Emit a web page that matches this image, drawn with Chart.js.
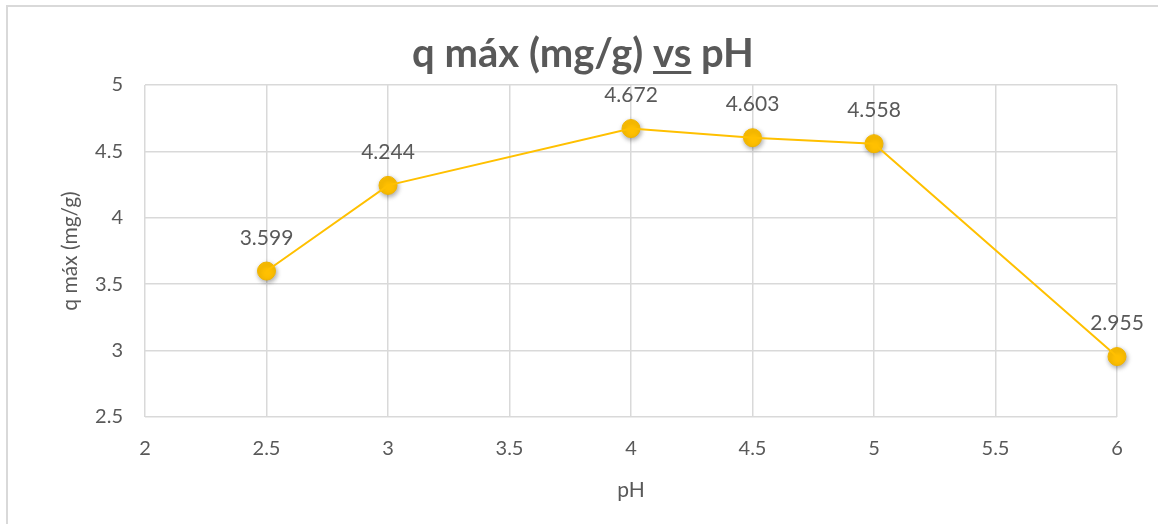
<!DOCTYPE html>
<html>
<head>
<meta charset="utf-8">
<script src="https://cdn.jsdelivr.net/npm/chart.js@4.4.0/dist/chart.umd.min.js"></script>
<style>
  html, body { margin: 0; padding: 0; background: #fff; }
  #wrap { position: relative; width: 1158px; height: 524px; overflow: hidden; }
  #frame { position: absolute; left: 6px; top: 5px; width: 1200px; height: 600px;
           border-left: 2px solid #d9d9d9; border-top: 2px solid #d9d9d9; }
  canvas { position: absolute; left: 0; top: 0; }
</style>
</head>
<body>
<div id="wrap">
  <div id="frame"></div>
  <canvas id="chart" width="1158" height="524"></canvas>
</div>
<script>
// Data
const phValues = [2.5, 3, 4, 4.5, 5, 6];
const qMax = [3.599, 4.244, 4.672, 4.603, 4.558, 2.955];
const xTicks = [2, 2.5, 3, 3.5, 4, 4.5, 5, 5.5, 6];
const yTicks = [2.5, 3, 3.5, 4, 4.5, 5];

const FONT = 'Lato, "Open Sans", sans-serif';
const TEXT = '#595959';
const GOLD = '#FFC000';

const points = phValues.map((x, i) => ({ x: x, y: qMax[i] }));

// Title with underlined "vs"
const titlePlugin = {
  id: 'excelTitle',
  afterDraw(chart) {
    const ctx = chart.ctx;
    const parts = ['q máx (mg/g) ', 'vs', ' pH'];
    ctx.save();
    ctx.font = 'bold 40px ' + FONT;
    ctx.fillStyle = TEXT;
    ctx.textBaseline = 'alphabetic';
    ctx.textAlign = 'left';
    const widths = parts.map(p => ctx.measureText(p).width);
    const total = widths.reduce((a, b) => a + b, 0);
    let x = 583 - total / 2;
    const base = 67;
    parts.forEach((p, i) => {
      ctx.fillText(p, x, base);
      if (i === 1) {
        ctx.fillRect(x, base + 4, widths[i], 3);
      }
      x += widths[i];
    });
    ctx.restore();
  }
};

// Value labels above points
const labelPlugin = {
  id: 'valueLabels',
  afterDatasetsDraw(chart) {
    const ctx = chart.ctx;
    const meta = chart.getDatasetMeta(1);
    ctx.save();
    ctx.font = '21px ' + FONT;
    ctx.fillStyle = TEXT;
    ctx.textAlign = 'center';
    ctx.textBaseline = 'middle';
    meta.data.forEach((pt, i) => {
      ctx.fillText(qMax[i].toFixed(3), pt.x, pt.y - 33);
    });
    ctx.restore();
  }
};

// Soft shadow on markers only
const shadowPlugin = {
  id: 'markerShadow',
  beforeDatasetDraw(chart, args) {
    if (args.index === 1) {
      const ctx = chart.ctx;
      ctx.save();
      ctx.shadowColor = 'rgba(0,0,0,0.35)';
      ctx.shadowBlur = 5;
      ctx.shadowOffsetX = 1;
      ctx.shadowOffsetY = 2;
    }
  },
  afterDatasetDraw(chart, args) {
    if (args.index === 1) chart.ctx.restore();
  }
};

const tickFmt = v => String(v);

new Chart(document.getElementById('chart').getContext('2d'), {
  type: 'scatter',
  data: {
    datasets: [{
      data: points,
      showLine: true,
      borderColor: GOLD,
      borderWidth: 2,
      pointRadius: 0,
      fill: false,
      clip: false
    }, {
      data: points,
      showLine: false,
      backgroundColor: GOLD,
      borderColor: '#F0B400',
      borderWidth: 1,
      pointRadius: 9,
      clip: false
    }]
  },
  options: {
    responsive: false,
    animation: false,
    layout: { padding: { top: 85, right: 41, left: 0, bottom: 0 } },
    plugins: {
      legend: { display: false },
      tooltip: { enabled: false },
      title: { display: false }
    },
    scales: {
      x: {
        type: 'linear',
        min: 2, max: 6,
        afterBuildTicks: s => { s.ticks = xTicks.map(v => ({ value: v })); },
        afterFit: s => { s.height = 107; },
        ticks: { color: TEXT, font: { family: FONT, size: 20 }, padding: 20, callback: tickFmt },
        grid: { color: '#d9d9d9', lineWidth: 1.5, drawTicks: false },
        border: { display: false },
        title: { display: true, text: 'pH', color: TEXT, font: { family: FONT, size: 21 }, padding: { top: 0, bottom: 21 } }
      },
      y: {
        type: 'linear',
        min: 2.5, max: 5,
        afterBuildTicks: s => { s.ticks = yTicks.map(v => ({ value: v })); },
        afterFit: s => { s.width = 145; },
        ticks: { color: TEXT, font: { family: FONT, size: 20 }, padding: 22, callback: tickFmt },
        grid: { color: '#d9d9d9', lineWidth: 1.5, drawTicks: false },
        border: { display: false },
        title: { display: true, text: 'q máx (mg/g)', color: TEXT, font: { family: FONT, size: 21 }, padding: { top: 58, bottom: 0 } }
      }
    }
  },
  plugins: [shadowPlugin, labelPlugin, titlePlugin]
});
</script>
</body>
</html>
